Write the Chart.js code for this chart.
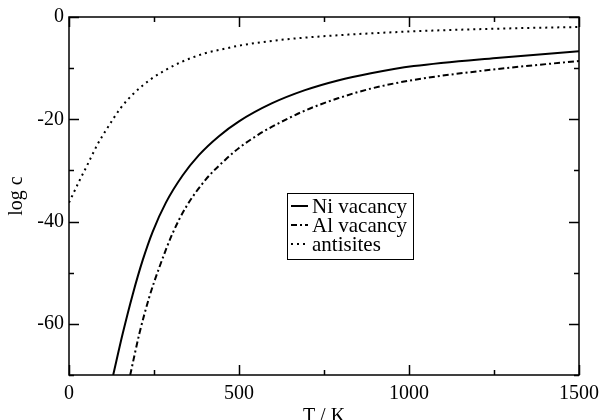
<!DOCTYPE html>
<html>
<head>
<meta charset="utf-8">
<script src="https://cdn.jsdelivr.net/npm/chart.js@4.4.0/dist/chart.umd.min.js"></script>
<style>
  html, body { margin: 0; padding: 0; background: #fff; }
  #wrap { width: 606px; height: 420px; }
</style>
</head>
<body>
<div id="wrap"><canvas id="defectChart" width="606" height="420"></canvas></div>
<script>
// --- Data (T in K, log c) ---
const niT   = [130, 158, 188, 217, 246, 285, 334, 382, 441, 500, 596, 694, 791, 888, 1014, 1257, 1500];
const niLog = [-70, -61.9, -54.1, -47.5, -42.0, -36.3, -31.0, -27.0, -23.3, -20.4, -16.9, -14.3, -12.4, -11.0, -9.6, -8.0, -6.7];

const alT   = [180, 207, 236, 266, 304, 343, 402, 460, 500, 557, 596, 694, 791, 888, 1014, 1257, 1500];
const alLog = [-70, -61.9, -54.8, -48.9, -42.4, -37.3, -31.8, -27.9, -25.6, -23.0, -21.5, -18.3, -15.9, -14.0, -12.3, -10.2, -8.6];

const antiT   = [0, 30, 52, 84, 113, 152, 191, 244, 283, 332, 400, 458, 500, 620, 762, 1014, 1250, 1500];
const antiLog = [-36.3, -32.1, -29.2, -24.9, -21.7, -17.8, -14.9, -12.0, -10.4, -8.75, -7.1, -6.2, -5.6, -4.5, -3.7, -2.8, -2.3, -1.95];

const seriesLabels = ["Ni vacancy", "Al vacancy", "antisites"];
const xTickValues = [0, 500, 1000, 1500];
const yTickValues = [-60, -40, -20, 0];
const xTitle = "T / K";
const yTitle = "log c";

const toPoints = (xs, ys) => xs.map((x, i) => ({ x: x, y: ys[i] }));
const serif = "'Liberation Serif', 'DejaVu Serif', serif";

// --- Ticks, frame, axis titles and legend drawn on top ---
const framePlugin = {
  id: "frame",
  afterDraw(chart) {
    const c = chart.ctx;
    const xs = chart.scales.x, ys = chart.scales.y;
    const a = chart.chartArea;
    c.save();
    c.strokeStyle = "#000";
    c.lineWidth = 1.5;
    c.setLineDash([]);
    c.strokeRect(a.left, a.top, a.right - a.left, a.bottom - a.top);

    c.beginPath();
    for (let v = 0; v <= 1500; v += 250) {
      const px = Math.round(xs.getPixelForValue(v)) + 0.5;
      const len = v % 500 === 0 ? 10 : 5;
      c.moveTo(px, a.bottom); c.lineTo(px, a.bottom - len);
      c.moveTo(px, a.top); c.lineTo(px, a.top + len);
    }
    for (let v = -70; v <= 0; v += 10) {
      const py = Math.round(ys.getPixelForValue(v)) + 0.5;
      const len = v % 20 === 0 ? 10 : 5;
      c.moveTo(a.left, py); c.lineTo(a.left + len, py);
      c.moveTo(a.right, py); c.lineTo(a.right - len, py);
    }
    c.stroke();

    // axis titles
    c.fillStyle = "#000";
    c.font = "20px " + serif;
    c.textAlign = "center";
    c.textBaseline = "alphabetic";
    c.fillText(xTitle, (a.left + a.right) / 2, 422);
    c.save();
    c.translate(22, (a.top + a.bottom) / 2);
    c.rotate(-Math.PI / 2);
    c.fillText(yTitle, 0, 0);
    c.restore();

    // legend box
    const bx = 287, by = 193, bw = 126, bh = 66;
    c.fillStyle = "#fff";
    c.fillRect(bx, by, bw, bh);
    c.lineWidth = 1;
    c.strokeRect(bx + 0.5, by + 0.5, bw, bh);
    c.font = "21px " + serif;
    c.textAlign = "left";
    c.textBaseline = "middle";
    chart.data.datasets.forEach((ds, i) => {
      const ly = by + 13 + i * 19;
      c.beginPath();
      c.lineWidth = ds.borderWidth;
      c.setLineDash(ds.borderDash || []);
      c.moveTo(bx + 4, ly); c.lineTo(bx + 21, ly);
      c.stroke();
      c.setLineDash([]);
      c.fillStyle = "#000";
      c.fillText(ds.label, bx + 25, ly + 1);
    });
    c.restore();
  }
};

const chart = new Chart(document.getElementById("defectChart"), {
  type: "scatter",
  data: {
    datasets: [
      { label: seriesLabels[0], data: toPoints(niT, niLog), borderColor: "#000", borderWidth: 2, borderDash: [] },
      { label: seriesLabels[1], data: toPoints(alT, alLog), borderColor: "#000", borderWidth: 2, borderDash: [6, 3, 2, 3] },
      { label: seriesLabels[2], data: toPoints(antiT, antiLog), borderColor: "#000", borderWidth: 2, borderDash: [2, 4] }
    ].map(ds => Object.assign(ds, { showLine: true, pointRadius: 0, cubicInterpolationMode: "monotone", fill: false }))
  },
  options: {
    responsive: false,
    animation: false,
    layout: { padding: { top: 15, right: 23, left: 0, bottom: 0 } },
    plugins: { legend: { display: false }, tooltip: { enabled: false } },
    scales: {
      x: {
        type: "linear", min: 0, max: 1500,
        afterBuildTicks: s => { s.ticks = xTickValues.map(v => ({ value: v })); },
        ticks: { color: "#000", font: { family: serif, size: 20 }, padding: 7, maxRotation: 0, callback: v => String(v) },
        grid: { display: false, drawTicks: false },
        border: { display: false },
        afterFit: s => { s.height = 45; }
      },
      y: {
        min: -70, max: 0,
        afterBuildTicks: s => { s.ticks = yTickValues.map(v => ({ value: v })); },
        ticks: { color: "#000", font: { family: serif, size: 20 }, padding: 5, callback: v => String(v) },
        grid: { display: false, drawTicks: false },
        border: { display: false },
        afterFit: s => { s.width = 69; }
      }
    }
  },
  plugins: [framePlugin]
});
</script>
</body>
</html>
